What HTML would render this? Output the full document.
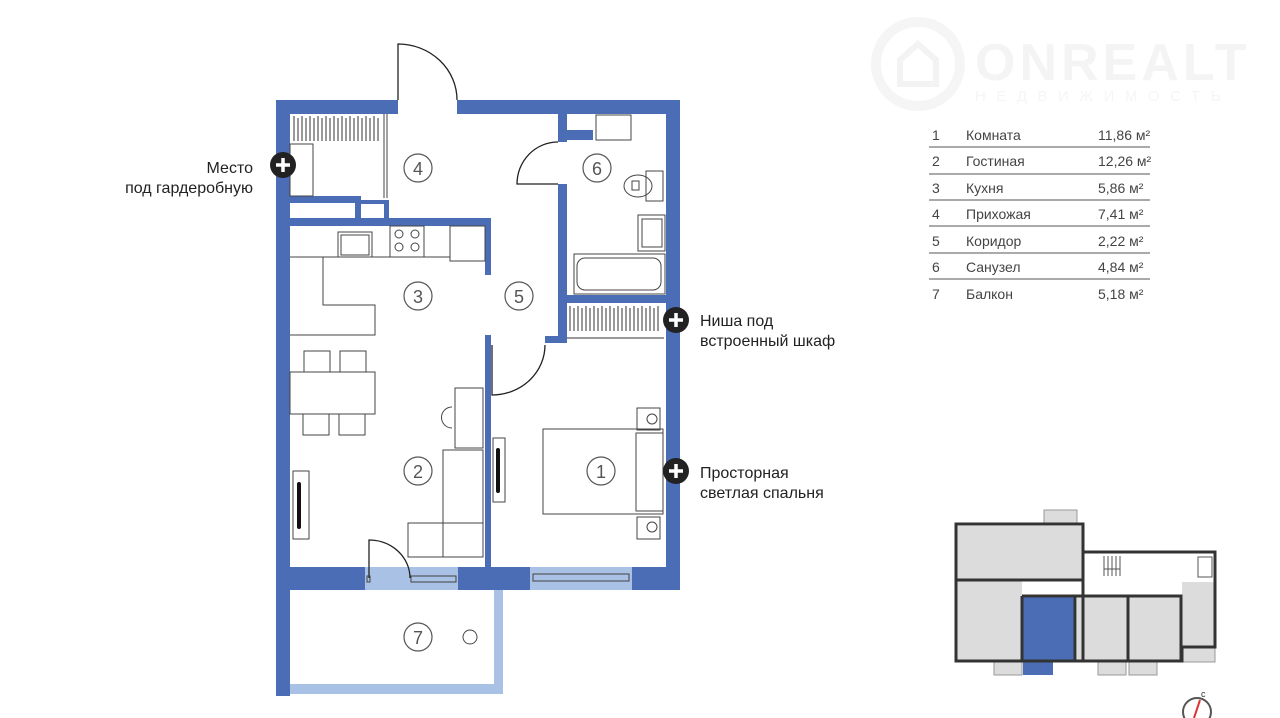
<!DOCTYPE html>
<html><head><meta charset="utf-8"><style>
html,body{margin:0;padding:0;background:#fff;width:1280px;height:718px;overflow:hidden}
svg{display:block}
text{font-family:"Liberation Sans",sans-serif}
</style></head><body>
<svg width="1280" height="718" viewBox="0 0 1280 718" xmlns="http://www.w3.org/2000/svg">
<!-- watermark -->
<g>
<circle cx="918" cy="64" r="42" fill="none" stroke="#f5f5f5" stroke-width="10"/>
<path d="M900 84 V60 L918 44 L936 60 V84 Z" fill="none" stroke="#f3f3f3" stroke-width="6"/>
<text x="975" y="80" font-size="52" font-weight="bold" fill="#f4f4f4" letter-spacing="4">ONREALT</text>
<text x="975" y="101" font-size="15" fill="#f5f5f5" letter-spacing="10.5">НЕДВИЖИМОСТЬ</text>
</g>
<!-- table -->
<g font-size="14" fill="#444">
<text x="932" y="140">1</text><text x="966" y="140">Комната</text><text x="1098" y="140">11,86 м²</text>
<text x="932" y="166">2</text><text x="966" y="166">Гостиная</text><text x="1098" y="166">12,26 м²</text>
<text x="932" y="193">3</text><text x="966" y="193">Кухня</text><text x="1098" y="193">5,86 м²</text>
<text x="932" y="219">4</text><text x="966" y="219">Прихожая</text><text x="1098" y="219">7,41 м²</text>
<text x="932" y="246">5</text><text x="966" y="246">Коридор</text><text x="1098" y="246">2,22 м²</text>
<text x="932" y="272">6</text><text x="966" y="272">Санузел</text><text x="1098" y="272">4,84 м²</text>
<text x="932" y="299">7</text><text x="966" y="299">Балкон</text><text x="1098" y="299">5,18 м²</text>
</g>
<g stroke="#777" stroke-width="1.2">
<line x1="929" y1="147" x2="1150" y2="147"/><line x1="929" y1="174" x2="1150" y2="174"/>
<line x1="929" y1="200" x2="1150" y2="200"/><line x1="929" y1="226" x2="1150" y2="226"/>
<line x1="929" y1="253" x2="1150" y2="253"/><line x1="929" y1="279" x2="1150" y2="279"/>
</g>
<!-- light blue -->
<g fill="#a9c1e5">
<rect x="365" y="567" width="93" height="23"/>
<rect x="530" y="567" width="102" height="23"/>
<rect x="290" y="684" width="213" height="10"/>
<rect x="494" y="590" width="9" height="104"/>
</g>
<!-- walls -->
<g fill="#4a6db5">
<rect x="276" y="100" width="14" height="596"/>
<rect x="276" y="100" width="122" height="14"/>
<rect x="457" y="100" width="223" height="14"/>
<rect x="666" y="100" width="14" height="490"/>
<rect x="276" y="567" width="89" height="23"/>
<rect x="458" y="567" width="72" height="23"/>
<rect x="632" y="567" width="48" height="23"/>
<rect x="290" y="196" width="70" height="7"/>
<rect x="355" y="196" width="6" height="22"/>
<rect x="384" y="200" width="5" height="18"/>
<rect x="355" y="200" width="34" height="4"/>
<rect x="290" y="218" width="201" height="8"/>
<rect x="485" y="218" width="6" height="57"/>
<rect x="485" y="335" width="6" height="232"/>
<rect x="558" y="114" width="9" height="28"/>
<rect x="558" y="130" width="35" height="10"/>
<rect x="558" y="184" width="9" height="119"/>
<rect x="558" y="295" width="108" height="8"/>
<rect x="558" y="303" width="9" height="38"/>
<rect x="545" y="336" width="22" height="7"/>
</g>
<g fill="none" stroke="#222" stroke-width="1.3">
<path d="M398 100 V44 A59 56 0 0 1 457 100"/>
<path d="M558 184 H517 A41 42 0 0 1 558 142"/>
<path d="M492 345 V395 A53 50 0 0 0 545 345"/>
<path d="M369 578 V540 A41 38 0 0 1 410 578"/>
</g>
<g fill="none" stroke="#444" stroke-width="1">
<rect x="367" y="576" width="3" height="6"/><rect x="411" y="576" width="45" height="6"/>
<rect x="533" y="574" width="96" height="7"/>
<rect x="290" y="144" width="23" height="52"/>
<line x1="387" y1="114" x2="387" y2="198"/><line x1="384" y1="114" x2="384" y2="198"/>
<rect x="596" y="115" width="35" height="25"/>
<rect x="646" y="171" width="17" height="30"/>
<ellipse cx="638" cy="186" rx="14" ry="11"/><rect x="632" y="181" width="7" height="9"/>
<rect x="638" y="215" width="27" height="36"/><rect x="642" y="219" width="20" height="28"/>
<rect x="574" y="254" width="91" height="40"/><rect x="577" y="258" width="84" height="32" rx="8"/>
<line x1="290" y1="257" x2="450" y2="257"/>
<rect x="338" y="232" width="34" height="25"/><rect x="341" y="235" width="28" height="20"/>
<rect x="390" y="226" width="34" height="31"/>
<circle cx="399" cy="234" r="4"/><circle cx="415" cy="234" r="4"/><circle cx="399" cy="247" r="4"/><circle cx="415" cy="247" r="4"/>
<rect x="450" y="226" width="35" height="35"/>
<path d="M323 257 V305 H375 V335 H290"/>
<rect x="290" y="372" width="85" height="42"/>
<rect x="304" y="351" width="26" height="21"/><rect x="340" y="351" width="26" height="21"/>
<rect x="303" y="414" width="26" height="21"/><rect x="339" y="414" width="26" height="21"/>
<rect x="293" y="471" width="16" height="68"/>
<rect x="455" y="388" width="28" height="60"/>
<path d="M452 407 A10 10 0 0 0 452 428"/>
<rect x="443" y="450" width="40" height="107"/>
<rect x="408" y="523" width="75" height="34"/>
<rect x="493" y="438" width="12" height="64"/>
<rect x="543" y="429" width="120" height="85"/>
<rect x="636" y="433" width="27" height="78"/>
<rect x="637" y="408" width="23" height="22"/><circle cx="652" cy="419" r="5"/>
<rect x="637" y="517" width="23" height="22"/><circle cx="652" cy="527" r="5"/>
<circle cx="470" cy="637" r="7"/>
</g>
<g fill="#111">
<rect x="297" y="482" width="4" height="47" rx="2"/>
<rect x="496" y="448" width="4" height="45" rx="2"/>
</g>
<g stroke="#333" stroke-width="1">
<path d="M294 116v25M298 118v23M302 116v25M306 118v23M310 116v25M314 118v23M318 116v25M322 118v23M326 116v25M330 118v23M334 116v25M338 118v23M342 116v25M346 118v23M350 116v25M354 118v23M358 116v25M362 118v23M366 116v25M370 118v23M374 116v25M378 118v23"/>
<path d="M570 306v25M574 308v23M578 306v25M582 308v23M586 306v25M590 308v23M594 306v25M598 308v23M602 306v25M606 308v23M610 306v25M614 308v23M618 306v25M622 308v23M626 306v25M630 308v23M634 306v25M638 308v23M642 306v25M646 308v23M650 306v25M654 308v23M658 306v25"/>
<line x1="567" y1="338" x2="664" y2="338"/>
</g>
<g fill="none" stroke="#555" stroke-width="1.2">
<circle cx="418" cy="168" r="14"/><circle cx="418" cy="296" r="14"/><circle cx="519" cy="296" r="14"/>
<circle cx="597" cy="168" r="14"/><circle cx="418" cy="471" r="14"/><circle cx="601" cy="471" r="14"/>
<circle cx="418" cy="637" r="14"/>
</g>
<g font-size="18" fill="#555" text-anchor="middle">
<text x="418" y="175">4</text><text x="418" y="303">3</text><text x="519" y="303">5</text>
<text x="597" y="175">6</text><text x="418" y="478">2</text><text x="601" y="478">1</text><text x="418" y="644">7</text>
</g>
<g>
<circle cx="283" cy="165" r="13" fill="#222"/><path d="M276 165h14M283 158v14" stroke="#fff" stroke-width="3.5"/>
<circle cx="676" cy="320" r="13" fill="#222"/><path d="M669 320h14M676 313v14" stroke="#fff" stroke-width="3.5"/>
<circle cx="676" cy="471" r="13" fill="#222"/><path d="M669 471h14M676 464v14" stroke="#fff" stroke-width="3.5"/>
</g>
<g font-size="16" fill="#222">
<text x="253" y="173" text-anchor="end">Место</text>
<text x="253" y="193" text-anchor="end">под гардеробную</text>
<text x="700" y="326">Ниша под</text>
<text x="700" y="346">встроенный шкаф</text>
<text x="700" y="478">Просторная</text>
<text x="700" y="498">светлая спальня</text>
</g>
<!-- mini map -->
<g fill="#dcdcdc" stroke="#999" stroke-width="1">
<rect x="1044" y="510" width="33" height="14"/>
<rect x="994" y="661" width="28" height="14"/>
<rect x="1098" y="661" width="28" height="14"/>
<rect x="1129" y="661" width="28" height="14"/>
<rect x="1183" y="647" width="32" height="15"/>
</g>
<g fill="#dcdcdc">
<rect x="957" y="526" width="125" height="53"/>
<rect x="957" y="581" width="65" height="79"/>
<rect x="1077" y="597" width="50" height="63"/>
<rect x="1129" y="597" width="51" height="63"/>
<rect x="1182" y="582" width="32" height="64"/>
</g>
<rect x="1023" y="597" width="52" height="64" fill="#4a6db5"/>
<rect x="1023" y="661" width="30" height="14" fill="#4a6db5"/>
<g fill="none" stroke="#333" stroke-width="3">
<path d="M1083 661 H956 V524 H1083 V661"/>
<path d="M1083 552 H1215 V647 H1182 V661 H1083"/>
<path d="M956 580 H1083"/>
<path d="M1022 596 H1181 V661"/>
<path d="M1022 596 V661 M1075 596 V661 M1128 596 V661"/>
</g>
<g stroke="#555" stroke-width="1" fill="none">
<path d="M1104 556v20M1108 556v20M1112 556v20M1116 556v20M1120 556v20M1104 569h16"/>
<rect x="1198" y="557" width="14" height="20"/>
</g>
<circle cx="1197" cy="712" r="14" fill="none" stroke="#555" stroke-width="2"/>
<path d="M1200 700 L1194 718" stroke="#d33" stroke-width="2"/>
<text x="1201" y="697" font-size="9" fill="#333">с</text>
</svg>
</body></html>
